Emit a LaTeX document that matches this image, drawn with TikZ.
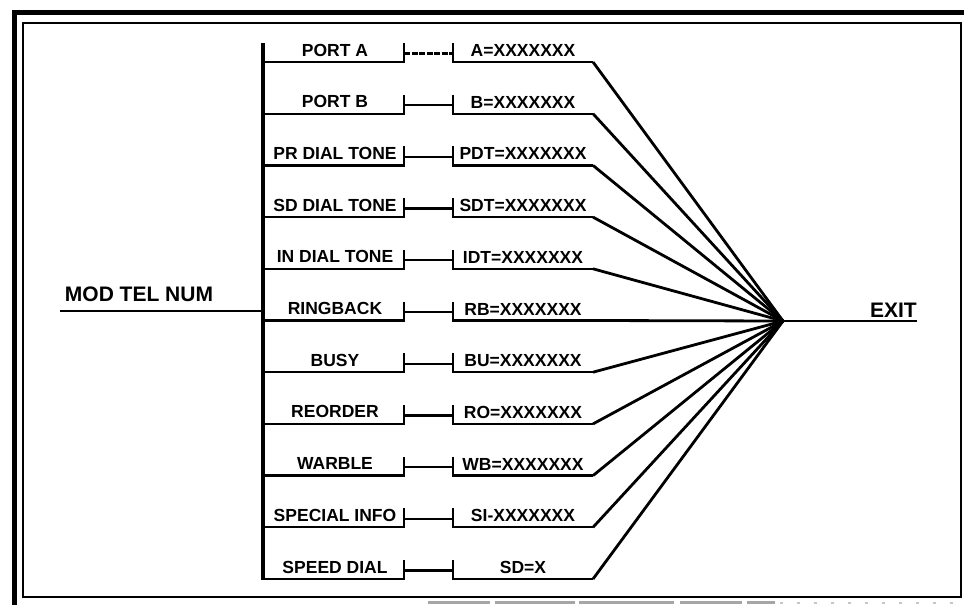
\documentclass[tikz,border=0pt]{standalone}
\usepackage{fontspec}
\setmainfont{Liberation Sans}
\begin{document}
\begin{tikzpicture}[x=1pt,y=-1pt,
  lab/.style={font=\bfseries\fontsize{17.5}{17.5}\selectfont, anchor=base, inner sep=0pt},
  big/.style={font=\bfseries\fontsize{21}{21}\selectfont, anchor=base, inner sep=0pt},
  ul/.style={line width=2.3pt},
  diag/.style={line width=2.8pt},
  bus/.style={line width=4.5pt},
  frame/.style={line width=2.2pt},
  thickframe/.style={line width=5pt}]
\useasboundingbox (0,0) rectangle (964,605);
% frames
\draw[thickframe] (14.5,605) -- (14.5,12.5) -- (964,12.5);
\draw[frame] (23,23) rectangle (961,597);
\draw[line width=3pt, gray!70, dash pattern=on 62pt off 5pt on 80pt off 4pt on 95pt off 6pt] (428,602.5) -- (775,602.5);
\draw[line width=2pt, gray!45, dash pattern=on 3pt off 14pt] (780,602.5) -- (964,602.5);
% bus and main lines
\coordinate (bustop) at (263,43);
\coordinate (busbot) at (263,580);
\draw[bus] (bustop) -- (busbot);
\coordinate (conv) at (783,321);
\coordinate (inL) at (60,311);
\coordinate (inR) at (263,311);
\coordinate (exitR) at (917,321);
\node[big] (modtel) at (139,301.5) {MOD TEL NUM};
\node[big, anchor=base east] (exit) at (917,317) {EXIT};
\draw[ul] (inL) -- (inR);
\draw[diag] (conv) -- (exitR);
% rows
\foreach \i/\a/\b in {0/PORT A/A=XXXXXXX, 1/PORT B/B=XXXXXXX, 2/PR DIAL TONE/PDT=XXXXXXX,
  3/SD DIAL TONE/SDT=XXXXXXX, 4/IN DIAL TONE/IDT=XXXXXXX, 5/RINGBACK/RB=XXXXXXX,
  6/BUSY/BU=XXXXXXX, 7/REORDER/RO=XXXXXXX, 8/WARBLE/WB=XXXXXXX,
  9/SPECIAL INFO/SI-XXXXXXX, 10/SPEED DIAL/SD=X}{
  \pgfmathsetmacro\yy{62+51.7*\i}
  \coordinate (B\i) at (263,\yy);
  \coordinate (P\i) at (404,\yy);
  \coordinate (PT\i) at (404,\yy-19);
  \coordinate (PM\i) at (404,\yy-8.5);
  \coordinate (QM\i) at (453,\yy-8.5);
  \coordinate (QT\i) at (453,\yy-19);
  \coordinate (Q\i) at (453,\yy);
  \coordinate (R\i) at (593,\yy);
  \node[lab] (L\i) at (335,\yy-6) {\a};
  \node[lab] (V\i) at (523,\yy-5.5) {\b};
  \draw[ul] (B\i) -- (P\i) -- (PT\i);
  \ifnum\i=0
    \draw[ul, dash pattern=on 6pt off 1.5pt] (PM\i) -- (QM\i);
  \else
    \draw[ul] (PM\i) -- (QM\i);
  \fi
  \draw[ul] (QT\i) -- (Q\i) -- (R\i);
  \draw[diag] (R\i) -- (conv);
}
\end{tikzpicture}
\end{document}
